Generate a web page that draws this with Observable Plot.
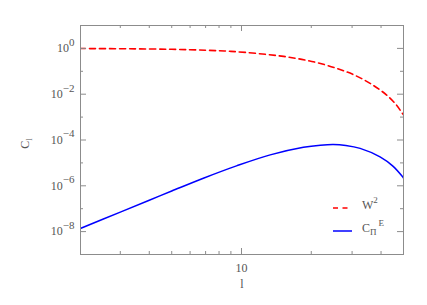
<!DOCTYPE html>
<html><head><meta charset="utf-8">
<script src="https://cdn.jsdelivr.net/npm/d3@7"></script>
<script src="https://cdn.jsdelivr.net/npm/@observablehq/plot@0.6"></script>
<style>body{margin:0;background:#fff}</style>
</head><body><div id="chart"></div>
<script>
// W^2 window (red dashed)
const ellW = [2, 3, 4, 5, 6, 7, 8, 9, 10.4, 12.7, 15.2, 18.2, 21.9, 26.6, 31.4, 37, 42.3, 46.7, 49.3, 50];
const w2 = [0.985, 0.967, 0.942, 0.912, 0.875, 0.834, 0.789, 0.741, 0.668, 0.550, 0.447, 0.331, 0.219, 0.120, 0.0617, 0.0245, 0.00912, 0.00331, 0.00151, 0.00126];
// C_Pi^E (blue solid)
const ellC = [2, 3, 4, 5, 6.89, 9.58, 13.3, 18.5, 21.9, 24.9, 28.2, 32.5, 39.6, 45, 49.5, 50];
const cPiE = [1.32e-8, 7.08e-8, 2.34e-7, 5.89e-7, 2.19e-6, 7.59e-6, 2.24e-5, 4.79e-5, 5.96e-5, 6.40e-5, 5.79e-5, 4.30e-5, 1.83e-5, 7.24e-6, 2.51e-6, 2.19e-6];
// ticks
const xMajorTicks = [10];
const xMinorTicks = [3, 4, 5, 6, 7, 8, 9, 20, 30, 40];
const yMajorTicks = [1e-8, 1e-6, 1e-4, 1e-2, 1];
const yMinorTicks = [1e-7, 1e-5, 1e-3, 1e-1];
const xLabel = "l";

const W = 427, H = 305, mL = 80, mR = 24, mT = 25, mB = 51;
const innerH = H - mT - mB, innerW = W - mL - mR;
const axisColor = "#8c8c8c", textColor = "#555";
const font = "'Liberation Serif', serif";
const dataW = ellW.map((l, i) => ({l, v: w2[i]}));
const dataC = ellC.map((l, i) => ({l, v: cPiE[i]}));

const tickMarks = [];
for (const [arr, len] of [[xMajorTicks, 6], [xMinorTicks, 3]]) {
  tickMarks.push(Plot.tickX(arr, {x: d => d, stroke: axisColor, insetTop: innerH - len}));
  tickMarks.push(Plot.tickX(arr, {x: d => d, stroke: axisColor, insetBottom: innerH - len}));
}
for (const [arr, len] of [[yMajorTicks, 6], [yMinorTicks, 3]]) {
  tickMarks.push(Plot.tickY(arr, {y: d => d, stroke: axisColor, insetRight: innerW - len}));
  tickMarks.push(Plot.tickY(arr, {y: d => d, stroke: axisColor, insetLeft: innerW - len}));
}

const plot = Plot.plot({
  width: W, height: H,
  marginLeft: mL, marginRight: mR, marginTop: mT, marginBottom: mB,
  style: {fontFamily: font, fontSize: "12px", color: textColor, background: "#fff"},
  x: {type: "log", domain: [2.02, 50]},
  y: {type: "log", domain: [1e-9, 10]},
  marks: [
    Plot.line(dataW, {x: "l", y: "v", stroke: "#ff0000", strokeWidth: 1.6, strokeDasharray: "6,4", curve: "catmull-rom", clip: true}),
    Plot.line(dataC, {x: "l", y: "v", stroke: "#0000ff", strokeWidth: 1.5, curve: "catmull-rom", clip: true}),
    ...tickMarks,
    Plot.axisX({ticks: xMajorTicks, tickSize: 0, tickPadding: 9, tickFormat: d => String(d), label: null, fill: textColor}),
    Plot.axisY({ticks: yMajorTicks, tickSize: 0, tickPadding: 6, tickFormat: d => "10^" + Math.round(Math.log10(d)), label: null, fill: textColor}),
    Plot.text([xLabel], {text: d => d, frameAnchor: "bottom", dy: 33, fill: textColor, fontSize: 12}),
    Plot.frame({stroke: axisColor})
  ]
});
document.getElementById("chart").appendChild(plot);

const svg = d3.select(plot);
// superscript exponents on y tick labels
svg.selectAll('g[aria-label="y-axis tick label"] text').each(function() {
  const t = d3.select(this);
  const s = t.text();
  const [base, exp] = s.split("^");
  t.text(null);
  t.append("tspan").text(base);
  t.append("tspan").attr("dy", -6.5).attr("font-size", 11).text(exp.replace("-", "\u2212"));
});

// y label C_l
const yl = svg.append("text")
  .attr("transform", `translate(29,${mT + innerH / 2 + 4}) rotate(-90)`)
  .attr("text-anchor", "middle")
  .attr("fill", textColor)
  .attr("font-family", font)
  .attr("font-size", 12);
yl.append("tspan").text("C");
yl.append("tspan").attr("dy", 3).attr("font-size", 9).text("l");

// legend
const lg = svg.append("g").attr("font-family", font).attr("fill", textColor)
  .attr("font-size", 12).attr("text-anchor", "start");
const lx = W - mR - 70, ly1 = H - mB - 46, ly2 = H - mB - 23;
lg.append("line").attr("x1", lx).attr("x2", lx + 16).attr("y1", ly1).attr("y2", ly1)
  .attr("stroke", "#ff0000").attr("stroke-width", 1.6).attr("stroke-dasharray", "5,4.5");
lg.append("line").attr("x1", lx).attr("x2", lx + 19).attr("y1", ly2).attr("y2", ly2)
  .attr("stroke", "#0000ff").attr("stroke-width", 1.5);
const t1 = lg.append("text").attr("x", lx + 29).attr("y", ly1 + 0.5);
t1.append("tspan").text("W");
t1.append("tspan").attr("dy", -6).attr("font-size", 9).text("2");
const t2 = lg.append("text").attr("x", lx + 29).attr("y", ly2 + 0.5);
t2.append("tspan").text("C");
t2.append("tspan").attr("dy", 3).attr("font-size", 9).text("\u03A0");
t2.append("tspan").attr("dy", -9).attr("dx", 2).attr("font-size", 9).text("E");
</script>
</body></html>
